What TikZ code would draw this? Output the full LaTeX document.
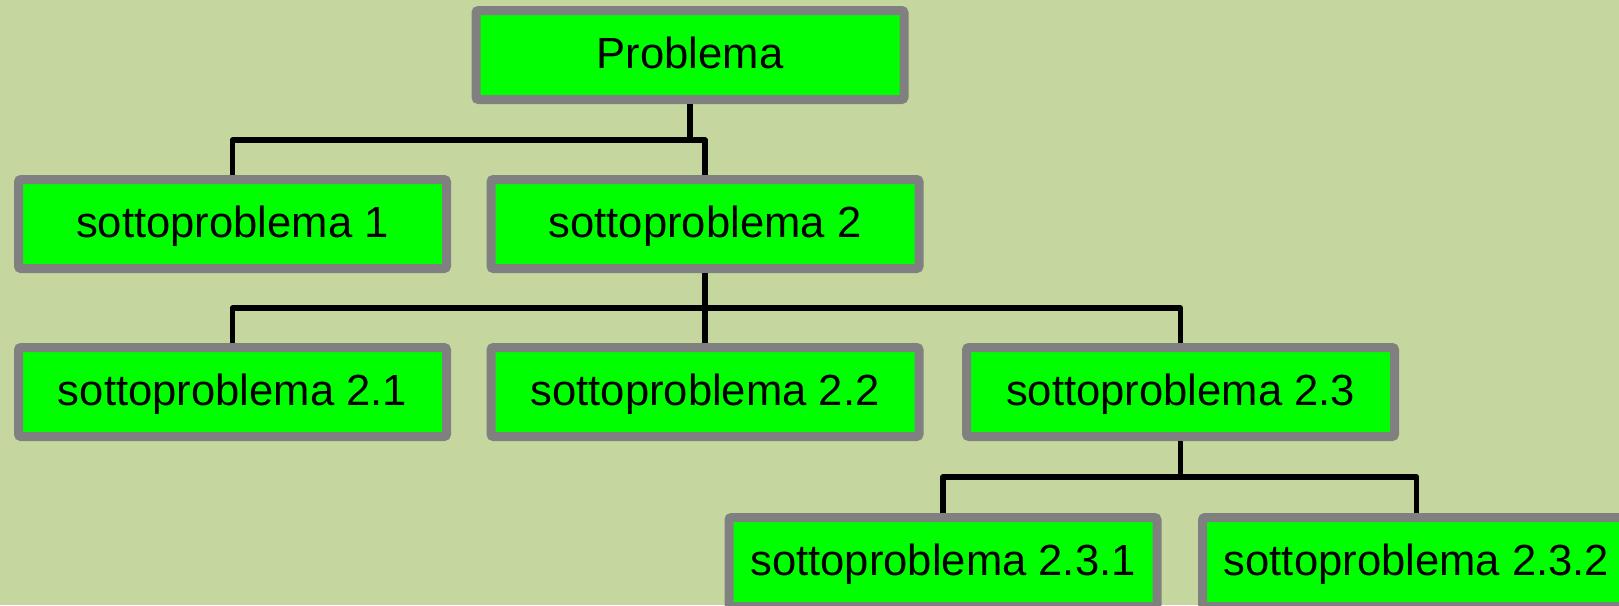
\documentclass[tikz,border=0pt]{standalone}
\usepackage{fontspec}
\setmainfont{Liberation Sans}
\definecolor{bgcol}{RGB}{197,215,159}
\definecolor{boxfill}{RGB}{0,255,0}
\definecolor{boxline}{RGB}{128,128,128}
\tikzset{
  task/.style={draw=boxline, fill=boxfill, line width=9pt, rounded corners=2.5pt,
    minimum width=428pt, minimum height=89pt, inner sep=0pt,
    text height=31pt, text depth=4pt,
    font=\fontsize{43.6}{50}\selectfont, text=black},
  link/.style={draw=black, line width=5.5pt, line join=round}
}
\begin{document}
\begin{tikzpicture}[x=1pt, y=-1pt]
  \useasboundingbox (0,0) rectangle (1619,605);
  \fill[bgcol] (0,0) rectangle (1619,605);

  % tree of the problem and its parts
  \node[task] (p)    at (690,55)    {Problema};
  \node[task] (s1)   at (232.5,224) {sottoproblema 1};
  \node[task] (s2)   at (705,224)   {sottoproblema 2};
  \node[task] (s21)  at (232.5,392) {sottoproblema 2.1};
  \node[task] (s22)  at (705,392)   {sottoproblema 2.2};
  \node[task] (s23)  at (1180.5,392){sottoproblema 2.3};
  \node[task] (s231) at (943,562)   {sottoproblema 2.3.1};
  \node[task] (s232) at (1416.5,562){sottoproblema 2.3.2};

  % heights of the horizontal bars
  \coordinate (b1) at (0,140);
  \coordinate (b2) at (0,308);
  \coordinate (b3) at (0,477);

  % level 1 -> 2
  \draw[link] (p.south) -- (p.south |- b1);
  \draw[link] (s1.north) -- (s1.north |- b1) -- (s2.north |- b1) -- (s2.north);
  % level 2 -> 3
  \draw[link] (s2.south) -- (s2.south |- b2);
  \draw[link] (s21.north) -- (s21.north |- b2) -- (s23.north |- b2) -- (s23.north);
  \draw[link] (s22.north) -- (s22.north |- b2);
  % level 3 -> 4
  \draw[link] (s23.south) -- (s23.south |- b3);
  \draw[link] (s231.north) -- (s231.north |- b3) -- (s232.north |- b3) -- (s232.north);
\end{tikzpicture}
\end{document}
